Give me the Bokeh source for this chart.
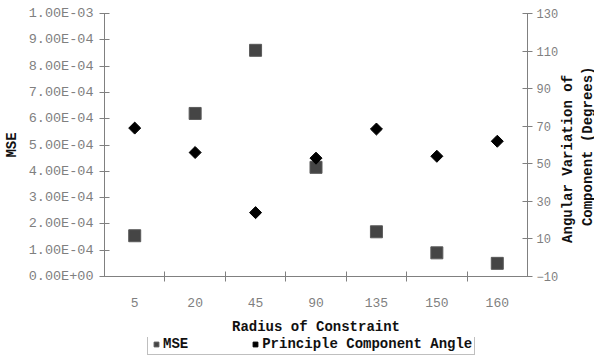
from bokeh.plotting import figure
from bokeh.layouts import column
from bokeh.models import (Range1d, LinearAxis, FixedTicker, CustomJSTickFormatter,
                          Legend, LegendItem, ColumnDataSource)
from bokeh.embed import file_html
from bokeh.resources import INLINE
import math

# ---- data ----
categories = ["5", "20", "45", "90", "135", "150", "160"]
mse = [1.55e-4, 6.2e-4, 8.6e-4, 4.15e-4, 1.7e-4, 0.9e-4, 0.5e-4]
angle = [69, 56, 24, 53, 68.5, 54, 62]
left_ticks = [0.0, 1e-4, 2e-4, 3e-4, 4e-4, 5e-4, 6e-4, 7e-4, 8e-4, 9e-4, 1e-3]
right_ticks = [-10, 10, 30, 50, 70, 90, 110, 130]
NB = "\u00a0"
right_title = NB * 4 + "Angular Variation of\n" + NB * 6 + "Component (Degrees)"

FONT = "Liberation Mono"
GRAY = "#808080"

xpos = [i + 0.5 for i in range(len(categories))]
boundaries = [i for i in range(1, len(categories))]
src = ColumnDataSource(dict(x=xpos, mse=mse, angle=angle))

p = figure(width=594, height=336, frame_width=423, frame_height=263,
           output_backend="svg", toolbar_location=None,
           x_range=Range1d(0, len(categories)), y_range=Range1d(0, 1e-3),
           min_border_left=104, min_border_right=67, min_border_top=13,
           min_border_bottom=60, x_axis_type=None, y_axis_type=None)
p.outline_line_color = None
p.xgrid.visible = False
p.ygrid.visible = False
p.extra_y_ranges = {"ang": Range1d(-10, 130)}

def style(ax, size="13px"):
    ax.axis_line_color = GRAY
    ax.major_tick_line_color = GRAY
    ax.minor_tick_line_color = GRAY
    ax.major_label_text_color = "#7f7f7f"
    ax.major_label_text_font = FONT
    ax.major_label_text_font_size = size
    ax.axis_label_text_font = FONT
    ax.axis_label_text_font_style = "bold"
    ax.axis_label_text_font_size = "14px"
    ax.axis_label_text_color = "#111111"

# x axis
xa = LinearAxis(ticker=FixedTicker(ticks=xpos, minor_ticks=boundaries),
                major_label_overrides={x: c for x, c in zip(xpos, categories)},
                axis_label="Radius of Constraint")
style(xa)
xa.major_tick_in = 0
xa.major_tick_out = 0
xa.minor_tick_in = 5
xa.minor_tick_out = 5
xa.major_label_standoff = 16
xa.axis_label_standoff = 9
p.add_layout(xa, "below")

# left axis
fmt = CustomJSTickFormatter(code="""
var s = tick.toExponential(2); var parts = s.split('e');
var sign = parts[1][0]; var d = parts[1].slice(1);
if (d.length < 2) { d = '0' + d; }
return parts[0] + 'E' + sign + d;
""")
ya = LinearAxis(ticker=FixedTicker(ticks=left_ticks, minor_ticks=[]), formatter=fmt,
                axis_label="MSE")
style(ya, "13.5px")
ya.major_tick_in = 5
ya.major_tick_out = 5
ya.major_label_standoff = 6
ya.axis_label_standoff = 6
p.add_layout(ya, "left")

# right axis (title reads bottom-to-top, as in the reference)
ra = LinearAxis(y_range_name="ang", ticker=FixedTicker(ticks=right_ticks, minor_ticks=[]),
                axis_label=right_title, axis_label_orientation=math.pi / 2,
                axis_label_align="start")
style(ra, "12px")
ra.axis_label_text_line_height = 1.2
ra.major_tick_in = 5
ra.major_tick_out = 5
ra.major_label_standoff = 4
ra.axis_label_standoff = 17
p.add_layout(ra, "right")

mse_style = dict(marker="square", size=12, fill_color="#454545", line_color="#5a5a5a")
ang_style = dict(marker="square", angle=math.pi / 4, size=8.5,
                 fill_color="#000000", line_color="#000000")
p.scatter("x", "mse", source=src, **mse_style)
p.scatter("x", "angle", source=src, y_range_name="ang", **ang_style)

# legend strip below the chart
lf = figure(width=594, height=24, output_backend="svg", toolbar_location=None,
            title=None, x_axis_type=None, y_axis_type=None, min_border=0,
            x_range=Range1d(0, 1), y_range=Range1d(0, 1))
lf.outline_line_color = None
lr1 = lf.scatter("x", "mse", source=src, visible=False, **mse_style)
lr2 = lf.scatter("x", "angle", source=src, visible=False, **ang_style)

leg = Legend(items=[LegendItem(label="MSE", renderers=[lr1]),
                    LegendItem(label="Principle Component Angle", renderers=[lr2])],
             orientation="horizontal", location=(43, 6),
             inactive_fill_alpha=0.0,
             border_line_color=GRAY, border_line_width=1,
             label_text_font=FONT, label_text_font_style="bold",
             label_text_font_size="14px", label_text_color="#111111",
             glyph_width=12, glyph_height=12, label_height=14,
             padding=2, margin=0, spacing=61, label_standoff=1)
lf.add_layout(leg, "center")

layout = column(p, lf, spacing=0)
open("out.html", "w").write(file_html(layout, INLINE))
